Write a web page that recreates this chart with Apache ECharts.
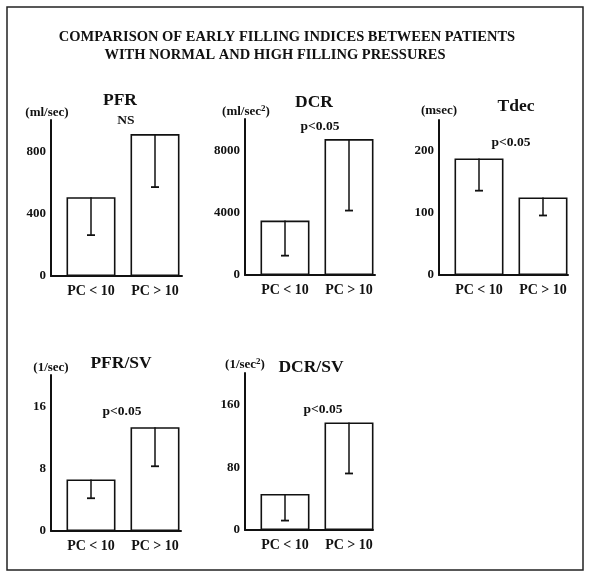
<!DOCTYPE html>
<html><head><meta charset="utf-8">
<script src="https://cdn.jsdelivr.net/npm/echarts@6/dist/echarts.min.js"></script>
<style>html,body{margin:0;padding:0;background:#fff}#c{width:590px;height:577px}</style>
</head><body><div id="c"></div>
<script>
const categories = ['PC < 10', 'PC > 10'];

const pfrMean = [505, 910];
const pfrLow = [262, 570];
const pfrTicks = [0, 400, 800];

const dcrMean = [3490, 8710];
const dcrLow = [1240, 4130];
const dcrTicks = [0, 4000, 8000];

const tdecMean = [188, 125];
const tdecLow = [136, 96];
const tdecTicks = [0, 100, 200];

const pfrsvMean = [6.6, 13.3];
const pfrsvLow = [4.2, 8.3];
const pfrsvTicks = [0, 8, 16];

const dcrsvMean = [46, 137];
const dcrsvLow = [12, 72];
const dcrsvTicks = [0, 80, 160];

const FONT = 'Liberation Serif';
const INK = '#111';

const panels = [
  {name:'PFR', unit:'(ml/sec)', note:'NS', mean:pfrMean, low:pfrLow, ticks:pfrTicks, max:1000,
   ax:51, top:120, bot:276, base:131,
   tPos:[120,100], uPos:[47,113], nPos:[126,121]},
  {name:'DCR', unit:'(ml/sec{s|2})', note:'p<0.05', mean:dcrMean, low:dcrLow, ticks:dcrTicks, max:10000,
   ax:245, top:119, bot:275, base:130,
   tPos:[314,102], uPos:[246,112], nPos:[320,127]},
  {name:'Tdec', unit:'(msec)', note:'p<0.05', mean:tdecMean, low:tdecLow, ticks:tdecTicks, max:250,
   ax:439, top:120, bot:275, base:129,
   tPos:[516,106], uPos:[439,111], nPos:[511,143]},
  {name:'PFR/SV', unit:'(1/sec)', note:'p<0.05', mean:pfrsvMean, low:pfrsvLow, ticks:pfrsvTicks, max:20,
   ax:51, top:375, bot:531, base:130,
   tPos:[121,363], uPos:[51,368], nPos:[122,412]},
  {name:'DCR/SV', unit:'(1/sec{s|2})', note:'p<0.05', mean:dcrsvMean, low:dcrsvLow, ticks:dcrsvTicks, max:200,
   ax:245, top:373, bot:530, base:128,
   tPos:[311,367], uPos:[245,365], nPos:[323,410]}
];

const grid = [], xAxis = [], yAxis = [], series = [], graphic = [];

graphic.push({type:'rect', shape:{x:7, y:7, width:576, height:563},
  style:{fill:null, stroke:'#222', lineWidth:1.5}, z:0});
graphic.push({type:'text', x:287, y:37, style:{text:'COMPARISON OF EARLY FILLING INDICES BETWEEN PATIENTS',
  fontFamily:FONT, fontWeight:'bold', fontSize:14.5, fill:INK, textAlign:'center', textVerticalAlign:'middle'}});
graphic.push({type:'text', x:275, y:55, style:{text:'WITH NORMAL AND HIGH FILLING PRESSURES',
  fontFamily:FONT, fontWeight:'bold', fontSize:14.5, fill:INK, textAlign:'center', textVerticalAlign:'middle'}});

panels.forEach((p, i) => {
  const ga = grid.length;
  grid.push({left:p.ax, top:p.top, width:p.base, height:p.bot - p.top, containLabel:false});
  grid.push({left:p.ax + 8, top:p.top, width:128, height:p.bot - p.top, containLabel:false});
  const step = p.ticks[1] - p.ticks[0];
  xAxis.push({gridIndex:ga, type:'category', data:categories,
    axisLine:{show:true, lineStyle:{color:INK, width:2}}, axisTick:{show:false}, axisLabel:{show:false}});
  xAxis.push({gridIndex:ga+1, type:'category', data:categories,
    axisLine:{show:false}, axisTick:{show:false},
    axisLabel:{show:true, margin:8, color:INK, fontFamily:FONT, fontWeight:'bold', fontSize:14}});
  yAxis.push({gridIndex:ga, type:'value', min:0, max:p.max, interval:step,
    axisLine:{show:true, lineStyle:{color:INK, width:2}}, axisTick:{show:false}, splitLine:{show:false},
    axisLabel:{show:true, margin:5, color:INK, fontFamily:FONT, fontWeight:'bold', fontSize:13,
      showMaxLabel:false, formatter:v => p.ticks.includes(v) ? String(v) : ''}});
  yAxis.push({gridIndex:ga+1, type:'value', min:0, max:p.max, show:false, splitLine:{show:false}});

  series.push({type:'bar', xAxisIndex:ga+1, yAxisIndex:ga+1, data:p.mean, barWidth:49,
    itemStyle:{color:'#fff', borderColor:INK, borderWidth:1.6}, silent:true, z:3});
  series.push({type:'custom', xAxisIndex:ga+1, yAxisIndex:ga+1, z:4, silent:true,
    data:p.mean.map((m, k) => [k, m, p.low[k]]),
    renderItem:(params, api) => {
      const a = api.coord([api.value(0), api.value(1)]);
      const b = api.coord([api.value(0), api.value(2)]);
      return {type:'group', children:[
        {type:'line', shape:{x1:a[0], y1:a[1], x2:b[0], y2:b[1]}, style:{stroke:INK, lineWidth:1.5}},
        {type:'line', shape:{x1:b[0]-4, y1:b[1], x2:b[0]+4, y2:b[1]}, style:{stroke:INK, lineWidth:1.8}}
      ]};
    }});

  const txt = (pos, text, size) => ({type:'text', x:pos[0], y:pos[1], z:10,
    style:{text, fontFamily:FONT, fontWeight:'bold', fontSize:size, fill:INK,
      textAlign:'center', textVerticalAlign:'middle',
      rich:{s:{fontSize:9, verticalAlign:'top', fontFamily:FONT, fontWeight:'bold', fill:INK, padding:[0,0,6,0]}}}});
  graphic.push(txt(p.tPos, p.name, 17.5));
  graphic.push(txt(p.uPos, p.unit, 13));
  graphic.push(txt(p.nPos, p.note, 13.5));
});

const chart = echarts.init(document.getElementById('c'), null, {renderer:'canvas'});
chart.setOption({animation:false, backgroundColor:'#fff', grid, xAxis, yAxis, series, graphic});
</script>
</body></html>
